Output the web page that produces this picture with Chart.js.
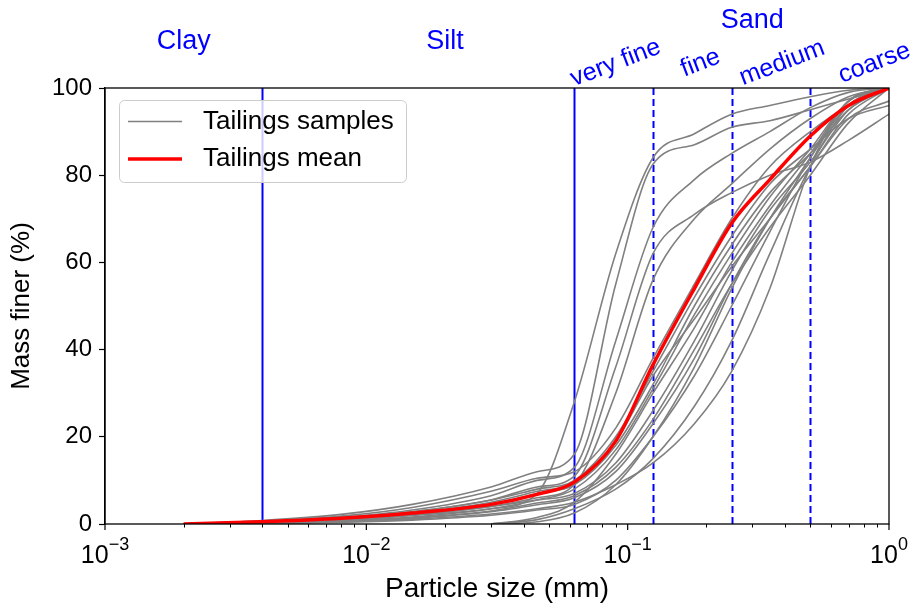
<!DOCTYPE html>
<html>
<head>
<meta charset="utf-8">
<script src="https://cdn.jsdelivr.net/npm/chart.js@4.4.0/dist/chart.umd.min.js"></script>
<style>
  html, body { margin: 0; padding: 0; background: #fff; }
</style>
</head>
<body>
<canvas id="myChart" width="913" height="607"></canvas>
<script>
// Tamaños de partícula (mm) comunes a todas las curvas
const sizes = [0.002, 0.004, 0.008, 0.015, 0.03, 0.045, 0.0625, 0.09, 0.125, 0.18, 0.25, 0.35, 0.5, 0.7, 1.0];

// Curva media (% que pasa)
const tailingsMean = [0, 0.5, 1.3, 2.5, 4.5, 6.8, 9.6, 19, 36.5, 54, 69, 79, 89, 96, 100];

// Muestras individuales (null = sin dato)
const s01 = [0, 0.3, 1, 2, 3.5, 7, 28, 62, 84, 89.5, 94, 96, 98, 99.5, 100];
const s02 = [0, 0.8, 2.2, 4.5, 8.5, 12, 16, 55, 82.5, 87, 91, 92.5, 95, 97.5, 100];
const s03 = [0, 0.5, 1.5, 3.2, 6.5, 10, 13, 42, 68, 79, 85, 90, 95.5, 99, 100];
const s04 = [0, 0.4, 1.2, 2.8, 5.5, 8.5, 11, 36, 62, 71, 76, 80, 83, 88, 94];
const s05 = [0, 0.2, 0.8, 2, 4, 6, 9, 30, 56, 70, 78, 86, 93, 98, 100];
const s06 = [0, 0.6, 1.8, 3.8, 7.5, 10.5, 12, 22, 38, 55, 70, 82, 90, 96, 100];
const s07 = [0, 0.4, 1.3, 2.8, 5.5, 8, 10, 20, 35, 52, 66, 78, 86, 93, 96];
const s08 = [0, 0.3, 1, 2.2, 4.5, 7, 9, 18, 32, 50, 64, 76, 85, 95, 100];
const s09 = [0, 0.2, 0.7, 1.6, 3.5, 5.5, 8, 17, 31, 48, 62, 75, 86, 97, 100];
const s10 = [null, null, null, null, 0, 1.5, 5, 16, 30, 45, 60, 73, 85, 97, 100];
const s11 = [0, 0.3, 1, 2.5, 5, 7.5, 9.5, 19, 34, 47, 59, 70, 82, 93, 97];
const s12 = [0, 0.3, 0.9, 2, 4, 5.5, 7, 14, 26, 42, 58, 72, 83, 95, 100];
const s13 = [0, 0.2, 0.6, 1.3, 2.8, 4.4, 6, 12, 23, 38, 55, 70, 82, 94, 100];
const s14 = [null, null, null, null, 0, 0.5, 2.5, 9, 20, 36, 54, 70, 84, 97, 100];
const s15 = [0, 0.1, 0.4, 0.9, 2, 3.2, 4.5, 10, 20, 34, 50, 67, 84, 96, 100];
const s16 = [0, 0.2, 0.7, 1.5, 3, 4.8, 6.5, 13, 24, 40, 55, 68, 80, 92, 100];
const s17 = [0, 0.2, 0.5, 1.1, 2.3, 3.5, 5, 9, 14, 23, 35, 54, 82, 97, 100];
const s18 = [null, null, null, null, 0, 1, 3.5, 8, 15, 27, 42, 62, 82, 96, 100];
const samples = [s01, s02, s03, s04, s05, s06, s07, s08, s09, s10, s11, s12, s13, s14, s15, s16, s17, s18];

// Límites de clases granulométricas
const solidBounds = [0.004, 0.0625];
const dashedBounds = [0.125, 0.25, 0.5];
const classLabels = ["Clay", "Silt", "Sand"];
const classAt = [0.002, 0.02, 0.3];
const sandLabels = ["very fine", "fine", "medium", "coarse"];
const sandAt = [0.09, 0.19, 0.39, 0.88];
const xMajors = [0.001, 0.01, 0.1, 1];
const xExponents = ["\u22123", "\u22122", "\u22121", "0"];

const FONT = "'Liberation Sans', Arial, sans-serif";
const BLUE = "#0000ff";

function toPoints(arr) {
  return sizes.map((x, i) => ({ x: x, y: arr[i] })).filter(p => p.y !== null);
}

const overlay = {
  id: "overlay",
  beforeDatasetsDraw(chart) {
    const ctx = chart.ctx, a = chart.chartArea, xs = chart.scales.x;
    ctx.save();
    ctx.strokeStyle = BLUE;
    ctx.lineWidth = 2;
    solidBounds.forEach(v => {
      const px = Math.round(xs.getPixelForValue(v)) + 0.5;
      ctx.beginPath(); ctx.moveTo(px, a.top); ctx.lineTo(px, a.bottom); ctx.stroke();
    });
    ctx.setLineDash([7, 4]);
    dashedBounds.forEach(v => {
      const px = Math.round(xs.getPixelForValue(v)) + 0.5;
      ctx.beginPath(); ctx.moveTo(px, a.top); ctx.lineTo(px, a.bottom); ctx.stroke();
    });
    ctx.restore();
  },
  afterDraw(chart) {
    const ctx = chart.ctx, a = chart.chartArea, xs = chart.scales.x;
    ctx.save();

    // marco
    ctx.strokeStyle = "#000";
    ctx.lineWidth = 1.3;
    ctx.strokeRect(a.left, a.top, a.right - a.left, a.bottom - a.top);

    // ticks del eje x (mayores y menores)
    for (let d = -3; d < 0; d++) {
      for (let m = 2; m <= 9; m++) {
        const px = Math.round(xs.getPixelForValue(m * Math.pow(10, d))) + 0.5;
        ctx.lineWidth = 1;
        ctx.beginPath(); ctx.moveTo(px, a.bottom); ctx.lineTo(px, a.bottom + 3.5); ctx.stroke();
      }
    }
    ctx.fillStyle = "#000";
    xMajors.forEach((v, i) => {
      const px = xs.getPixelForValue(v);
      ctx.lineWidth = 1.2;
      ctx.beginPath(); ctx.moveTo(px, a.bottom); ctx.lineTo(px, a.bottom + 6); ctx.stroke();
      ctx.font = "25px " + FONT;
      const w1 = ctx.measureText("10").width;
      ctx.font = "18px " + FONT;
      const w2 = ctx.measureText(xExponents[i]).width;
      const x0 = px - (w1 + w2) / 2;
      ctx.textAlign = "left";
      ctx.textBaseline = "alphabetic";
      ctx.font = "25px " + FONT;
      ctx.fillText("10", x0, a.bottom + 39);
      ctx.font = "18px " + FONT;
      ctx.fillText(xExponents[i], x0 + w1, a.bottom + 26);
    });

    // título del eje x
    ctx.font = "28px " + FONT;
    ctx.textAlign = "center";
    ctx.fillText("Particle size (mm)", (a.left + a.right) / 2, a.bottom + 73);

    // etiquetas de clases
    ctx.fillStyle = BLUE;
    ctx.font = "27px " + FONT;
    ctx.textBaseline = "middle";
    classLabels.forEach((t, i) => {
      const y = t === "Sand" ? 21 : 42;
      ctx.fillText(t, xs.getPixelForValue(classAt[i]), y);
    });
    ctx.font = "25px " + FONT;
    sandLabels.forEach((t, i) => {
      ctx.save();
      ctx.translate(xs.getPixelForValue(sandAt[i]), 63);
      ctx.rotate(-21 * Math.PI / 180);
      ctx.fillText(t, 0, 0);
      ctx.restore();
    });

    // leyenda
    ctx.beginPath();
    ctx.roundRect(119.5, 100.5, 287, 82, 5);
    ctx.fillStyle = "rgba(255,255,255,0.8)";
    ctx.fill();
    ctx.strokeStyle = "#cccccc";
    ctx.lineWidth = 1;
    ctx.stroke();
    ctx.strokeStyle = "#808080"; ctx.lineWidth = 1.6;
    ctx.beginPath(); ctx.moveTo(128, 121.5); ctx.lineTo(182, 121.5); ctx.stroke();
    ctx.strokeStyle = "#ff0000"; ctx.lineWidth = 3.5;
    ctx.beginPath(); ctx.moveTo(128, 159); ctx.lineTo(182, 159); ctx.stroke();
    ctx.fillStyle = "#000";
    ctx.font = "26px " + FONT;
    ctx.textAlign = "left";
    ctx.fillText("Tailings samples", 203, 122);
    ctx.fillText("Tailings mean", 203, 159);

    ctx.restore();
  }
};

const datasets = [{
  label: "Tailings mean",
  data: toPoints(tailingsMean),
  borderColor: "#ff0000",
  borderWidth: 3.5,
  order: 0
}];
samples.forEach((s, i) => {
  datasets.push({
    label: i === 0 ? "Tailings samples" : "",
    data: toPoints(s),
    borderColor: "#808080",
    borderWidth: 1.6,
    order: 1
  });
});

const ctx = document.getElementById("myChart").getContext("2d");
new Chart(ctx, {
  type: "line",
  data: { datasets: datasets },
  options: {
    responsive: false,
    animation: false,
    layout: { padding: { top: 88, right: 24, bottom: 83, left: 0 } },
    elements: { point: { radius: 0 }, line: { cubicInterpolationMode: "monotone" } },
    plugins: { legend: { display: false }, tooltip: { enabled: false } },
    scales: {
      x: { type: "logarithmic", min: 0.001, max: 1, display: false },
      y: {
        min: 0, max: 100,
        ticks: { stepSize: 20, color: "#000", padding: 7, font: { family: FONT, size: 24 } },
        grid: { drawOnChartArea: false, color: "#000", tickLength: 6, tickWidth: 1.2 },
        border: { color: "#000", width: 1.3 },
        title: { display: true, text: "Mass finer (%)", color: "#000", font: { family: FONT, size: 26 }, padding: { top: 6, bottom: 0 } },
        afterFit: s => { s.width = 105; }
      }
    }
  },
  plugins: [overlay]
});
</script>
</body>
</html>
